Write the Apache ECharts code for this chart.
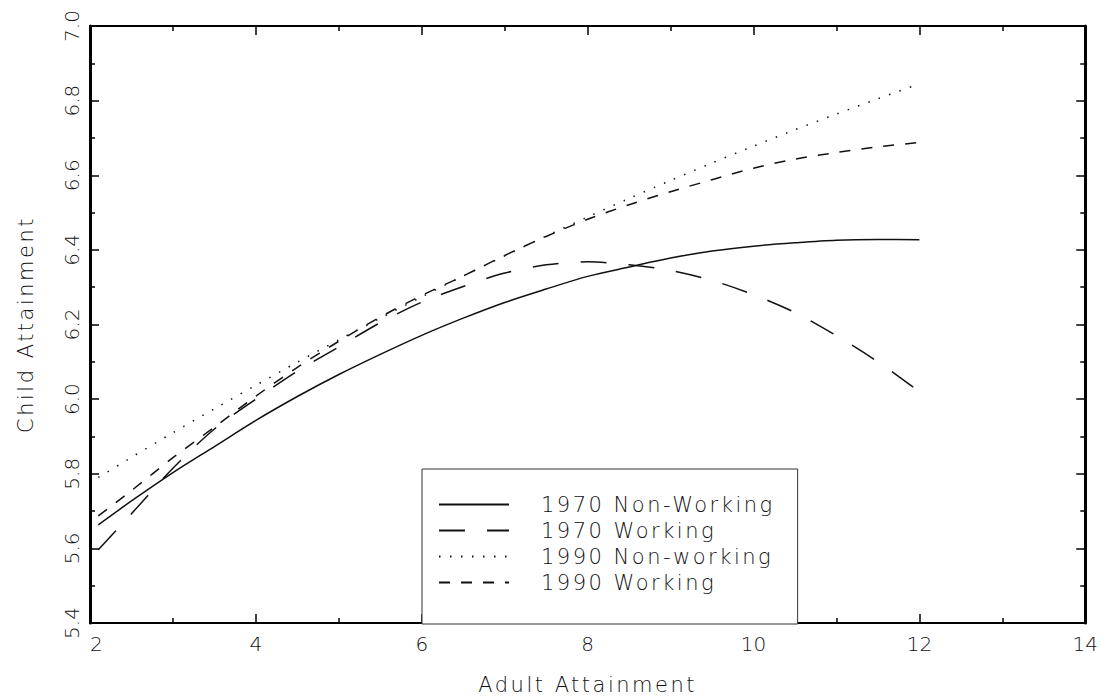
<!DOCTYPE html>
<html>
<head>
<meta charset="utf-8">
<script src="https://cdn.jsdelivr.net/npm/echarts@6/dist/echarts.min.js"></script>
<style>
html,body{margin:0;padding:0;background:#fff;}
#chart{width:1101px;height:700px;}
#chart text[style*="21px"]{letter-spacing:2.5px;}
</style>
</head>
<body>
<div id="chart"></div>
<script>
// Adult attainment (x) sample points
const adultAttainment = [2.1, 2.5, 3, 3.5, 4, 4.5, 5, 5.5, 6, 6.5, 7, 7.5, 8, 8.5, 9, 9.5, 10, 10.5, 11, 11.5, 12];
// Child attainment per series
const nonWorking1970 = [5.663, 5.727, 5.803, 5.873, 5.943, 6.007, 6.066, 6.120, 6.171, 6.217, 6.259, 6.295, 6.329, 6.354, 6.378, 6.397, 6.410, 6.419, 6.426, 6.428, 6.427];
const working1970    = [5.596, 5.693, 5.815, 5.920, 6.000, 6.075, 6.140, 6.205, 6.260, 6.302, 6.338, 6.360, 6.368, 6.360, 6.345, 6.318, 6.280, 6.232, 6.170, 6.100, 6.020];
const nonWorking1990 = [5.790, 5.844, 5.910, 5.974, 6.037, 6.099, 6.159, 6.217, 6.274, 6.330, 6.384, 6.437, 6.488, 6.538, 6.586, 6.633, 6.678, 6.722, 6.764, 6.805, 6.845];
const working1990    = [5.687, 5.755, 5.843, 5.925, 6.008, 6.085, 6.155, 6.220, 6.278, 6.330, 6.385, 6.436, 6.482, 6.521, 6.556, 6.588, 6.619, 6.643, 6.661, 6.676, 6.688];
const seriesNames = ['1970 Non-Working', '1970 Working', '1990 Non-working', '1990 Working'];
const xTicks = [2, 14, 2];      // min, max, interval
const yTicks = [5.4, 7.0, 0.2]; // min, max, interval

const FONT = 'DejaVu Sans';
const INK = '#111';

function pairs(ys) { return adultAttainment.map((x, i) => [x, ys[i]]); }

const dashes = ['solid', [26, 22], [1.5, 9.5], [11, 11]];
const values = [nonWorking1970, working1970, nonWorking1990, working1990];

function axisCommon(width) {
  return {
    axisLine: { show: true, onZero: false, lineStyle: { color: '#000', width: width } },
    axisTick: { show: true, inside: true, length: 9, lineStyle: { color: '#000', width: 1.5 } },
    minorTick: { show: true, inside: true, splitNumber: 2, length: 5, lineStyle: { color: '#000', width: 1.5 } },
    splitLine: { show: false },
    minorSplitLine: { show: false }
  };
}

const option = {
  animation: false,
  backgroundColor: '#fff',
  grid: { left: 90, right: 15, top: 26, bottom: 76, containLabel: false },
  legend: {
    orient: 'vertical',
    left: 422,
    top: 469,
    itemWidth: 70,
    itemHeight: 16,
    itemGap: 5,
    padding: [25, 63, 31, 16],
    borderColor: '#333',
    borderWidth: 1,
    backgroundColor: '#fff',
    data: seriesNames,
    itemStyle: { color: 'rgba(0,0,0,0)', borderWidth: 0 },
    textStyle: { fontSize: 21, fontFamily: FONT, fontWeight: 200, color: INK, padding: [0, 0, 0, 27] }
  },
  xAxis: [
    Object.assign({
      type: 'value', position: 'bottom', min: xTicks[0], max: xTicks[1], interval: xTicks[2],
      name: 'Adult Attainment', nameLocation: 'middle', nameGap: 51,
      nameTextStyle: { fontSize: 21, fontFamily: FONT, fontWeight: 200, color: INK },
      axisLabel: { fontSize: 20, fontFamily: FONT, fontWeight: 200, color: INK, margin: 11, alignMinLabel: 'left' }
    }, axisCommon(2)),
    Object.assign({
      type: 'value', position: 'top', min: xTicks[0], max: xTicks[1], interval: xTicks[2],
      axisLabel: { show: false }
    }, axisCommon(2))
  ],
  yAxis: [
    Object.assign({
      type: 'value', position: 'left', min: yTicks[0], max: yTicks[1], interval: yTicks[2],
      name: 'Child Attainment', nameLocation: 'middle', nameGap: 54,
      nameTextStyle: { fontSize: 21, fontFamily: FONT, fontWeight: 200, color: INK },
      axisLabel: { rotate: 90, fontSize: 20, fontFamily: FONT, fontWeight: 200, color: INK, margin: 8,
        formatter: v => v.toFixed(1) }
    }, axisCommon(3)),
    Object.assign({
      type: 'value', position: 'right', min: yTicks[0], max: yTicks[1], interval: yTicks[2],
      axisLabel: { show: false }
    }, axisCommon(3))
  ],
  series: seriesNames.map((name, i) => ({
    name: name,
    type: 'line',
    xAxisIndex: 0,
    yAxisIndex: 0,
    data: pairs(values[i]),
    symbol: 'none',
    smooth: 0.3,
    lineStyle: { color: INK, width: 1.5, type: dashes[i] },
    itemStyle: { color: INK }
  }))
};

const chart = echarts.init(document.getElementById('chart'), null, { renderer: 'svg', width: 1101, height: 700 });
chart.setOption(option);
</script>
</body>
</html>
